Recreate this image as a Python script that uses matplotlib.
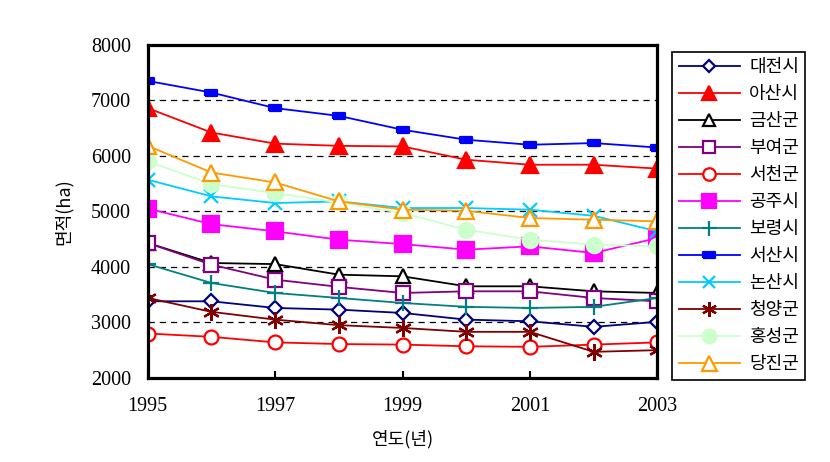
import numpy as np
import matplotlib.pyplot as plt

years = [1995, 1996, 1997, 1998, 1999, 2000, 2001, 2002, 2003]

names = ["대전시", "아산시", "금산군", "부여군", "서천군", "공주시",
         "보령시", "서산시", "논산시", "청양군", "홍성군", "당진군"]

daejeon = [3380, 3380, 3260, 3230, 3170, 3050, 3020, 2920, 3010]
asan = [6860, 6420, 6220, 6180, 6170, 5930, 5840, 5840, 5770]
geumsan = [4430, 4070, 4050, 3860, 3830, 3650, 3650, 3560, 3530]
buyeo = [4430, 4040, 3770, 3640, 3530, 3560, 3560, 3440, 3380]
seocheon = [2800, 2740, 2640, 2610, 2600, 2570, 2560, 2600, 2640]
gongju = [5050, 4770, 4640, 4490, 4410, 4310, 4370, 4250, 4520]
boryeong = [4050, 3710, 3530, 3440, 3350, 3280, 3260, 3280, 3440]
seosan = [7350, 7140, 6860, 6720, 6470, 6290, 6200, 6230, 6150]
nonsan = [5570, 5270, 5150, 5180, 5060, 5060, 5030, 4920, 4640]
cheongyang = [3440, 3190, 3050, 2950, 2900, 2830, 2830, 2470, 2500]
hongseong = [5900, 5490, 5330, 5160, 4970, 4670, 4490, 4400, 4370]
dangjin = [6180, 5700, 5520, 5180, 5030, 5010, 4880, 4850, 4820]

series = [daejeon, asan, geumsan, buyeo, seocheon, gongju,
          boryeong, seosan, nonsan, cheongyang, hongseong, dangjin]

rect = [(-1, -0.55), (1, -0.55), (1, 0.55), (-1, 0.55), (-1, -0.55)]

# (color, marker, markersize, filled)
styles = [
    ("#000080", "D", 7, False),
    ("#FF0000", "^", 11, True),
    ("#000000", "^", 10, False),
    ("#800080", "s", 10, False),
    ("#FF0000", "o", 10, False),
    ("#FF00FF", "s", 11, True),
    ("#008080", "+", 12, True),
    ("#0000FF", rect, 9, True),
    ("#00CCFF", "x", 10, True),
    ("#800000", (6, 2, 0), 12, True),
    ("#CCFFCC", "o", 11, True),
    ("#FF9900", "^", 12, False),
]

serif = "Liberation Serif"
kr = ["Noto Sans CJK KR", "DejaVu Sans"]

fig = plt.figure(figsize=(8.3, 4.62), dpi=100)
ax = fig.add_axes([0.178, 0.182, 0.614, 0.721])

for vals, name, (c, m, ms, filled) in zip(series, names, styles):
    ax.plot(years, vals, color=c, lw=1.3, marker=m, ms=ms,
            mfc=c if filled else "white", mec=c, mew=1.6, label=name)

for g in [3000, 4000, 5000, 6000, 7000]:
    ax.axhline(g, color="black", lw=0.9, ls=(0, (5, 4)), zorder=0)

ax.set_xlim(1995, 2003)
ax.set_ylim(2000, 8000)
ax.set_xticks([1995, 1997, 1999, 2001, 2003])
ax.set_yticks(np.arange(2000, 8001, 1000))
ax.tick_params(axis="x", direction="in", length=5, width=1.5, pad=14)
ax.tick_params(axis="y", length=0, pad=12)
for lab in ax.get_xticklabels() + ax.get_yticklabels():
    lab.set_fontfamily(serif)
    lab.set_fontsize(14.5)
for s in ax.spines.values():
    s.set_linewidth(2.3)

ax.set_xlabel("연도(년)", family=kr, fontsize=13, labelpad=10)
ax.set_ylabel("면적(ha)", family=kr, fontsize=13, labelpad=13)

leg = fig.legend(loc="upper left", bbox_to_anchor=(0.81, 0.888),
                 bbox_transform=fig.transFigure, frameon=True,
                 fancybox=False, edgecolor="black", framealpha=1,
                 prop={"family": kr, "size": 13}, labelspacing=0.5,
                 handlelength=3.4, handletextpad=0.5, borderpad=0.35,
                 borderaxespad=0, markerscale=0.9)
leg.get_frame().set_linewidth(1.2)

fig.savefig("out.png", dpi=100)
